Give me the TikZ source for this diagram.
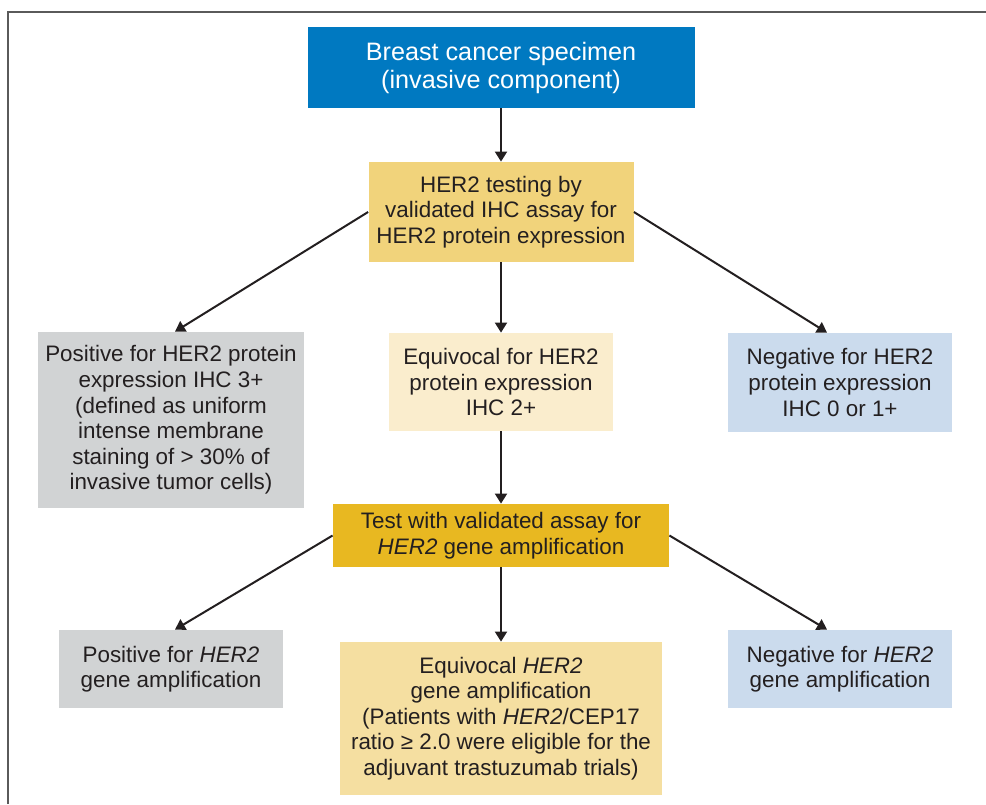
\documentclass[tikz,border=0pt]{standalone}
\usepackage{fontspec}
\setmainfont{Liberation Sans}
\usepackage{xcolor}
\usepackage{tikz}
\usetikzlibrary{arrows.meta}

\definecolor{specblue}{RGB}{0,121,193}
\definecolor{ihcgold}{RGB}{241,211,123}
\definecolor{posgray}{RGB}{209,211,212}
\definecolor{eqcream}{RGB}{250,237,205}
\definecolor{negblue}{RGB}{203,219,237}
\definecolor{ishgold}{RGB}{232,184,33}
\definecolor{eqgold}{RGB}{245,223,161}
\definecolor{inkdark}{RGB}{35,31,32}
\definecolor{framegray}{RGB}{90,90,90}

\begin{document}
\begin{tikzpicture}[x=0.5pt, y=-0.5pt,
    box/.style={rectangle, inner sep=0pt, align=center, text=inkdark,
        font=\fontsize{11.2}{12.8}\selectfont},
    flow/.style={->, >={Triangle[length=5pt, width=6pt]}, line width=1pt, inkdark}]
    \useasboundingbox (0,0) rectangle (986,804);

    % frame
    \draw[framegray, line width=0.8pt] (8,804) -- (8,12) -- (986,12);

    % Specimen
    \node[box, fill=specblue, text=white, minimum width=193.5pt, minimum height=40.5pt,
        font=\fontsize{12.6}{14}\selectfont] (spec) at (501,67.5)
        {Breast cancer specimen\\(invasive component)};

    % IHC testing
    \node[box, fill=ihcgold, minimum width=132.5pt, minimum height=50pt] (ihc) at (501,212)
        {HER2 testing by\\validated IHC assay for\\HER2 protein expression};

    % IHC results
    \node[box, fill=posgray, minimum width=133pt, minimum height=88pt] (posihc) at (171,420)
        {Positive for HER2 protein\\expression IHC 3+\\(defined as uniform\\intense membrane\\staining of > 30\% of\\invasive tumor cells)};
    \node[box, fill=eqcream, minimum width=112pt, minimum height=49pt] (eqihc) at (501,382)
        {Equivocal for HER2\\protein expression\\IHC 2+};
    \node[box, fill=negblue, minimum width=112pt, minimum height=49.5pt] (negihc) at (840,382.5)
        {Negative for HER2\\protein expression\\IHC 0 or 1+};

    % Gene amplification test
    \node[box, fill=ishgold, minimum width=168pt, minimum height=31.5pt] (ish) at (501,535.5)
        {Test with validated assay for\\\textit{HER2} gene amplification};

    % Gene amplification results
    \node[box, fill=posgray, minimum width=112pt, minimum height=39pt] (posish) at (171,669)
        {Positive for \textit{HER2}\\gene amplification};
    \node[box, fill=eqgold, minimum width=161pt, minimum height=76.5pt] (eqish) at (501,718.5)
        {Equivocal \textit{HER2}\\gene amplification\\(Patients with \textit{HER2}/CEP17\\ratio ≥ 2.0 were eligible for the\\adjuvant trastuzumab trials)};
    \node[box, fill=negblue, minimum width=112pt, minimum height=39pt] (negish) at (840,669)
        {Negative for \textit{HER2}\\gene amplification};

    % Arrows
    \draw[flow] (spec) -- (ihc);
    \draw[flow] (ihc.west) -- ([xshift=2pt]posihc.north);
    \draw[flow] (ihc) -- (eqihc);
    \draw[flow] (ihc.east) -- ([xshift=-6.5pt]negihc.north);
    \draw[flow] (eqihc) -- (ish);
    \draw[flow] (ish.west) -- ([xshift=2pt]posish.north);
    \draw[flow] (ish) -- (eqish);
    \draw[flow] (ish.east) -- ([xshift=-6.5pt]negish.north);
\end{tikzpicture}
\end{document}
